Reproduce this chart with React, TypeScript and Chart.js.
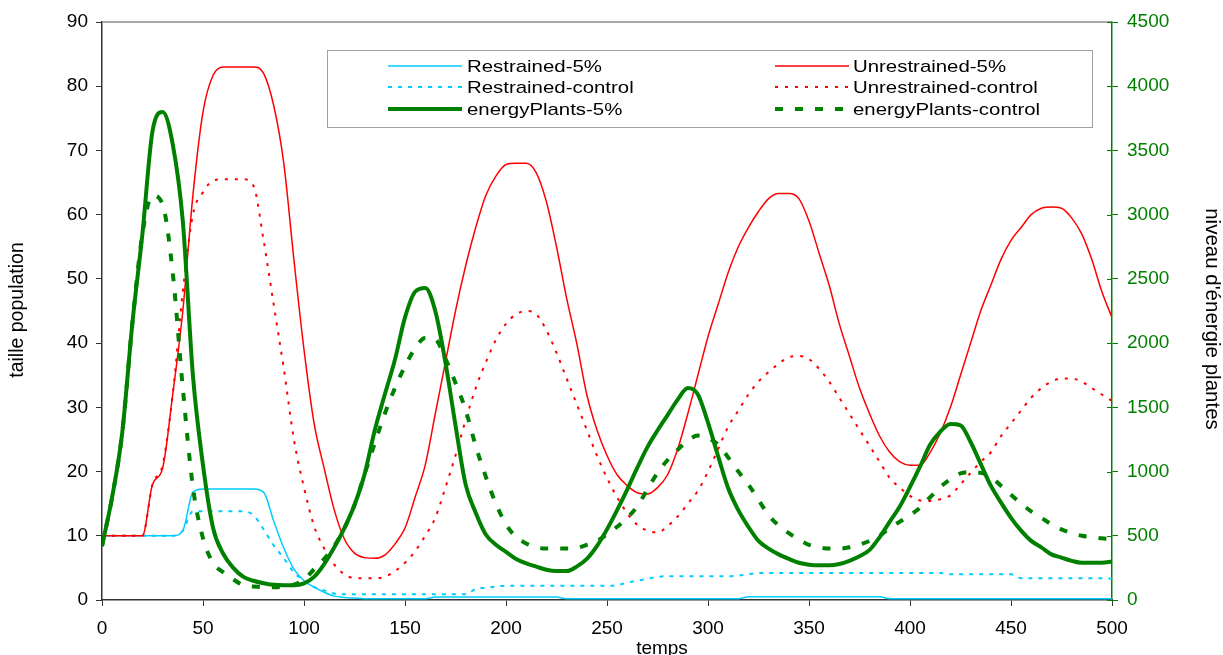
import { useEffect, useRef } from 'react';
import { Chart, registerables } from 'chart.js';

Chart.register(...registerables);

// time axis (temps)
const temps = [
  0, 5, 10, 15, 20, 25, 30, 35, 40, 45,
  50, 55, 60, 65, 70, 75, 80, 85, 90, 95,
  100, 105, 110, 115, 120, 125, 130, 135, 140, 145,
  150, 155, 160, 165, 170, 175, 180, 185, 190, 195,
  200, 205, 210, 215, 220, 225, 230, 235, 240, 245,
  250, 255, 260, 265, 270, 275, 280, 285, 290, 295,
  300, 305, 310, 315, 320, 325, 330, 335, 340, 345,
  350, 355, 360, 365, 370, 375, 380, 385, 390, 395,
  400, 405, 410, 415, 420, 425, 430, 435, 440, 445,
  450, 455, 460, 465, 470, 475, 480, 485, 490, 495,
  500,
];

// population series (left axis)
const restrained5 = [
  10, 10, 10, 10, 10, 10, 10, 10, 10.8, 16.8,
  17.3, 17.3, 17.3, 17.3, 17.3, 17.3, 16.8, 12.3, 8.1, 4.8,
  3, 2, 1.2, 0.6, 0.4, 0.3, 0.2, 0.2, 0.2, 0.2,
  0.2, 0.2, 0.2, 0.45, 0.45, 0.45, 0.45, 0.45, 0.45, 0.45,
  0.45, 0.45, 0.45, 0.45, 0.45, 0.45, 0.2, 0.2, 0.2, 0.2,
  0.2, 0.2, 0.2, 0.2, 0.2, 0.2, 0.2, 0.2, 0.2, 0.2,
  0.2, 0.2, 0.2, 0.2, 0.5, 0.5, 0.5, 0.5, 0.5, 0.5,
  0.5, 0.5, 0.5, 0.5, 0.5, 0.5, 0.5, 0.5, 0.2, 0.2,
  0.2, 0.2, 0.2, 0.2, 0.2, 0.2, 0.2, 0.2, 0.2, 0.2,
  0.2, 0.2, 0.2, 0.2, 0.2, 0.2, 0.2, 0.2, 0.2, 0.2,
  0.2,
];

const restrainedControl = [
  10, 10, 10, 10, 10, 10, 10, 10, 10.8, 13.8,
  13.8, 13.8, 13.8, 13.8, 13.8, 13.2, 11, 8.5, 6.5, 4.3,
  3, 2, 1.5, 1, 0.9, 0.9, 0.9, 0.9, 0.9, 0.9,
  0.9, 0.9, 0.9, 0.9, 0.9, 0.9, 0.9, 1.7, 1.9, 2.1,
  2.2, 2.2, 2.2, 2.2, 2.2, 2.2, 2.2, 2.2, 2.2, 2.2,
  2.2, 2.3, 2.7, 3.0, 3.3, 3.6, 3.7, 3.7, 3.7, 3.7,
  3.7, 3.7, 3.7, 3.8, 4.0, 4.2, 4.2, 4.2, 4.2, 4.2,
  4.2, 4.2, 4.2, 4.2, 4.2, 4.2, 4.2, 4.2, 4.2, 4.2,
  4.2, 4.2, 4.2, 4.2, 4.0, 4.0, 4.0, 4.0, 4.0, 4.0,
  4.0, 3.4, 3.4, 3.4, 3.4, 3.4, 3.4, 3.4, 3.4, 3.4,
  3.3,
];

const unrestrained5 = [
  10, 10, 10, 10, 10, 18, 20.5, 32, 45, 63,
  76, 81.7, 83, 83, 83, 83, 82, 77, 68, 53,
  39, 27.5, 20.5, 14, 9.5, 7.3, 6.6, 6.5, 7, 8.7,
  11.2, 16, 21, 29, 37, 45, 52, 58, 63, 66,
  67.8, 68, 68, 66.5, 62, 55, 47, 40, 32, 26.5,
  22.5, 19.5, 17.8, 16.7, 16.5, 17.5, 19.5, 23.5, 29, 35,
  41, 46, 51, 55, 58, 60.5, 62.5, 63.3, 63.3, 62.5,
  59, 54, 49, 43, 38, 33, 29, 25.5, 23, 21.5,
  21, 21, 23, 26, 30, 35, 40, 45, 49, 53,
  56, 58, 60, 61, 61.2, 61, 59.5, 57, 53, 48,
  44,
];

const unrestrainedControl = [
  10, 10, 10, 10, 10, 18, 21, 32, 48, 60,
  63.5, 65.3, 65.5, 65.5, 65.5, 64.5, 56, 46, 36, 25,
  17.5, 11.5, 8, 5.5, 4, 3.4, 3.4, 3.4, 3.6, 4.5,
  5.8, 7.6, 10, 12.8, 17.5, 22.5, 28, 33, 37, 40.5,
  43, 44.5, 45, 44.5, 42, 38.5, 34.5, 30.5, 26.5, 22.5,
  19, 16, 13.5, 11.7, 10.8, 10.5, 11.5, 13, 15, 17,
  20, 23.5, 27, 29.5, 32, 34, 35.5, 36.8, 37.8, 38,
  37.5, 36, 34, 31.5, 29, 26.5, 24, 21.5, 19, 17.5,
  16.2, 15.5, 15.4, 15.7, 16.3, 18, 19.8, 21.5, 23, 25.5,
  27.5, 29.5, 31.5, 33, 34, 34.5, 34.5, 34, 33, 32,
  31,
];

// plant energy series (right axis)
const energyPlants5 = [
  420, 800, 1300, 2150, 2850, 3650, 3800, 3550, 2950, 1750,
  1050, 560, 360, 250, 180, 150, 130, 118, 115, 115,
  130, 180, 280, 410, 560, 740, 980, 1320, 1600, 1870,
  2200, 2400, 2430, 2250, 1850, 1360, 900, 680, 510, 430,
  375, 320, 285, 260, 235, 225, 225, 260, 320, 420,
  550, 700, 860, 1030, 1190, 1320, 1440, 1560, 1650, 1600,
  1380, 1120, 870, 700, 570, 460, 400, 355, 320, 290,
  275, 270, 270, 280, 305, 340, 390, 490, 610, 730,
  880, 1040, 1210, 1310, 1370, 1360, 1230, 1060, 890, 760,
  640, 540, 460, 410, 355, 330, 305, 290, 290, 290,
  300,
];

const energyPlantsControl = [
  420, 800, 1300, 2150, 2850, 3150, 3080, 2550, 1650, 880,
  480, 290, 215, 160, 115, 105, 100, 100, 105, 120,
  160, 240, 320, 420, 560, 740, 980, 1220, 1450, 1650,
  1820, 1960, 2040, 2030, 1880, 1690, 1480, 1200, 960, 750,
  590, 490, 440, 410, 400, 400, 400, 405, 430, 460,
  510, 570, 640, 730, 860, 990, 1090, 1170, 1240, 1280,
  1260, 1210, 1110, 1000, 900, 780, 660, 580, 520, 470,
  430, 410, 400, 400, 410, 430, 460, 500, 560, 610,
  660, 720, 800, 880, 940, 985, 995, 990, 960, 890,
  820, 750, 690, 640, 590, 550, 520, 500, 490, 480,
  475,
];

const seriesLabels = [
  'Restrained-5%',
  'Restrained-control',
  'energyPlants-5%',
  'Unrestrained-5%',
  'Unrestrained-control',
  'energyPlants-control',
];

const xTitle = 'temps';
const yTitle = 'taille population';
const y1Title = "niveau d'énergie plantes";

const CYAN = '#00ccff';
const RED = '#ff0000';
const GREEN = '#008000';
const FONT = '"Liberation Sans", Arial, sans-serif';

const pts = (arr: number[]) => temps.map((t, i) => ({ x: t, y: arr[i] }));
const plain = (v: any) => String(v);

type LegendItem = { label: string; color: string; width: number; dash: number[] };

const legendItems: LegendItem[] = [
  { label: seriesLabels[0], color: CYAN, width: 1.5, dash: [] },
  { label: seriesLabels[1], color: CYAN, width: 2, dash: [4, 6] },
  { label: seriesLabels[2], color: GREEN, width: 4, dash: [] },
  { label: seriesLabels[3], color: RED, width: 1.5, dash: [] },
  { label: seriesLabels[4], color: RED, width: 2, dash: [3, 7] },
  { label: seriesLabels[5], color: GREEN, width: 4, dash: [8, 12] },
];

const overlayPlugin = {
  id: 'overlay',
  afterDraw(chart: any) {
    const ctx = chart.ctx as CanvasRenderingContext2D;
    const { left, right, top } = chart.chartArea;
    ctx.save();

    // top frame line
    ctx.strokeStyle = '#8c8c8c';
    ctx.lineWidth = 1.5;
    ctx.setLineDash([]);
    ctx.beginPath();
    ctx.moveTo(left, top);
    ctx.lineTo(right, top);
    ctx.stroke();

    // inner half of right-axis ticks
    const y1 = chart.scales.y1;
    ctx.strokeStyle = GREEN;
    ctx.lineWidth = 1;
    y1.ticks.forEach((t: any) => {
      const py = Math.round(y1.getPixelForValue(t.value)) + 0.5;
      ctx.beginPath();
      ctx.moveTo(right - 5, py);
      ctx.lineTo(right, py);
      ctx.stroke();
    });

    // legend box
    const bx = 327.5, by = 50.5, bw = 765, bh = 77;
    ctx.fillStyle = '#ffffff';
    ctx.fillRect(bx, by, bw, bh);
    ctx.strokeStyle = '#a0a0a0';
    ctx.lineWidth = 1;
    ctx.strokeRect(bx, by, bw, bh);

    const rows = [66, 87, 109];
    const cols = [
      { x0: 388, x1: 462, tx: 467 },
      { x0: 775, x1: 849, tx: 853 },
    ];
    legendItems.forEach((it, i) => {
      const c = cols[Math.floor(i / 3)];
      const y = rows[i % 3];
      ctx.strokeStyle = it.color;
      ctx.lineWidth = it.width;
      ctx.setLineDash(it.dash);
      ctx.beginPath();
      ctx.moveTo(c.x0, y);
      ctx.lineTo(c.x1, y);
      ctx.stroke();
      ctx.setLineDash([]);
      ctx.save();
      ctx.translate(c.tx, y);
      ctx.scale(1.2, 1);
      ctx.fillStyle = '#000';
      ctx.font = `17px ${FONT}`;
      ctx.textAlign = 'left';
      ctx.textBaseline = 'middle';
      ctx.fillText(it.label, 0, 1);
      ctx.restore();
    });

    // axis titles
    ctx.fillStyle = '#000';
    ctx.textAlign = 'center';
    ctx.textBaseline = 'alphabetic';

    ctx.save();
    ctx.translate(23, 310);
    ctx.rotate(-Math.PI / 2);
    ctx.font = `19.5px ${FONT}`;
    ctx.fillText(yTitle, 0, 0);
    ctx.restore();

    ctx.save();
    ctx.translate(1206, 319);
    ctx.rotate(Math.PI / 2);
    ctx.font = `20.5px ${FONT}`;
    ctx.fillText(y1Title, 0, 0);
    ctx.restore();

    ctx.font = `19px ${FONT}`;
    ctx.fillText(xTitle, 662, 654);

    ctx.restore();
  },
};

export default function App() {
  const canvasRef = useRef<HTMLCanvasElement | null>(null);

  useEffect(() => {
    document.body.style.margin = '0';
    const canvas = canvasRef.current;
    if (!canvas) return;

    const chart = new Chart(canvas, {
      type: 'line',
      data: {
        datasets: [
          {
            label: seriesLabels[2],
            data: pts(energyPlants5),
            yAxisID: 'y1',
            borderColor: GREEN,
            borderWidth: 4,
            pointRadius: 0,
            cubicInterpolationMode: 'monotone',
          },
          {
            label: seriesLabels[5],
            data: pts(energyPlantsControl),
            yAxisID: 'y1',
            borderColor: GREEN,
            borderWidth: 4,
            borderDash: [8, 12],
            pointRadius: 0,
            cubicInterpolationMode: 'monotone',
          },
          {
            label: seriesLabels[3],
            data: pts(unrestrained5),
            yAxisID: 'y',
            borderColor: RED,
            borderWidth: 1.5,
            pointRadius: 0,
            cubicInterpolationMode: 'monotone',
          },
          {
            label: seriesLabels[4],
            data: pts(unrestrainedControl),
            yAxisID: 'y',
            borderColor: RED,
            borderWidth: 2,
            borderDash: [3, 7],
            pointRadius: 0,
            cubicInterpolationMode: 'monotone',
          },
          {
            label: seriesLabels[0],
            data: pts(restrained5),
            yAxisID: 'y',
            borderColor: CYAN,
            borderWidth: 1.5,
            pointRadius: 0,
            cubicInterpolationMode: 'monotone',
          },
          {
            label: seriesLabels[1],
            data: pts(restrainedControl),
            yAxisID: 'y',
            borderColor: CYAN,
            borderWidth: 2,
            borderDash: [4, 6],
            pointRadius: 0,
            cubicInterpolationMode: 'monotone',
          },
        ],
      },
      options: {
        animation: false,
        responsive: false,
        devicePixelRatio: 1,
        layout: { padding: { top: 22, left: 0, right: 0, bottom: 0 } },
        plugins: {
          legend: { display: false },
          tooltip: { enabled: false },
        },
        scales: {
          x: {
            type: 'linear',
            min: 0,
            max: 500,
            ticks: {
              stepSize: 50,
              autoSkip: false,
              maxRotation: 0,
              color: '#000',
              padding: 11,
              font: { family: FONT, size: 19 },
              callback: plain,
            },
            grid: { display: true, drawOnChartArea: false, tickLength: 6, color: '#333' },
            border: { display: true, color: '#333', width: 1.5 },
            afterFit: (s: any) => { s.height = 55; },
          },
          y: {
            type: 'linear',
            position: 'left',
            min: 0,
            max: 90,
            ticks: {
              stepSize: 10,
              color: '#000',
              padding: 8,
              font: { family: FONT, size: 19 },
              callback: plain,
            },
            grid: { display: true, drawOnChartArea: false, tickLength: 6, color: '#333' },
            border: { display: true, color: '#333', width: 1.5 },
            afterFit: (s: any) => { s.width = 102; },
          },
          y1: {
            type: 'linear',
            position: 'right',
            min: 0,
            max: 4500,
            ticks: {
              stepSize: 500,
              color: GREEN,
              padding: 9,
              font: { family: FONT, size: 19 },
              callback: plain,
            },
            grid: { display: true, drawOnChartArea: false, tickLength: 6, color: GREEN },
            border: { display: true, color: GREEN, width: 1.5 },
            afterFit: (s: any) => { s.width = 111; },
          },
        },
      },
      plugins: [overlayPlugin],
    } as any);

    return () => chart.destroy();
  }, []);

  return (
    <div style={{ position: 'absolute', left: 0, top: 0, width: 1223, height: 655 }}>
      <canvas
        ref={canvasRef}
        width={1223}
        height={655}
        style={{ display: 'block', width: 1223, height: 655 }}
      />
    </div>
  );
}
